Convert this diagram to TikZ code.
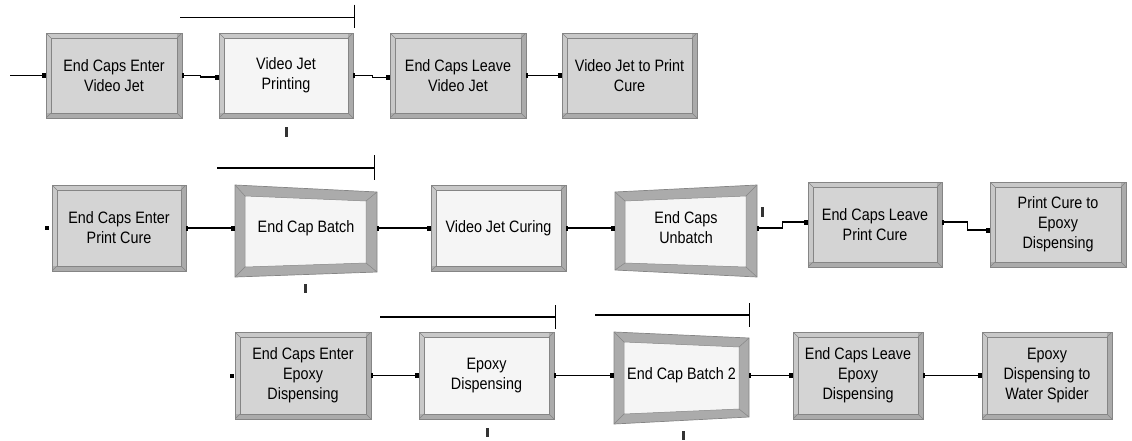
\documentclass[tikz,border=0pt]{standalone}
\usepackage{fontspec}
\usetikzlibrary{arrows.meta}
\newfontfamily\boxfontfam[FakeStretch=0.87]{Liberation Sans}
\newcommand\boxfont{\boxfontfam\fontsize{16.5}{20}\selectfont}
\definecolor{bmid}{HTML}{ABABAB}
\definecolor{bdark}{HTML}{858585}
\definecolor{blight}{HTML}{C8C8C8}
\definecolor{gfill}{HTML}{D4D4D4}
\definecolor{wfill}{HTML}{F5F5F5}
\tikzset{
  innerfill/.store in=\innercol, innerfill=gfill,
  proc/.style={draw=bdark, line width=0.7pt, fill=bmid, inner sep=0pt, align=center, font=\boxfont,
    path picture={
      \fill[blight] ([shift={(1pt,-1pt)}]path picture bounding box.north west) rectangle ([shift={(-5pt,5pt)}]path picture bounding box.south east);
      \fill[\innercol, draw=bdark, line width=0.5pt] ([shift={(5pt,-5pt)}]path picture bounding box.north west) rectangle ([shift={(-5pt,5pt)}]path picture bounding box.south east);
      \draw[bdark, line width=0.5pt] (path picture bounding box.north west) -- ++(5pt,-5pt)
        (path picture bounding box.north east) -- ++(-5pt,-5pt)
        (path picture bounding box.south west) -- ++(5pt,5pt)
        (path picture bounding box.south east) -- ++(-5pt,5pt);
    }},
  gbox/.style={proc, innerfill=gfill},
  wbox/.style={proc, innerfill=wfill},
  batchtxt/.style={inner sep=0pt, align=center, font=\boxfont},
  conn/.style={line width=1.1pt, {Rectangle[length=2pt,width=5pt]}-{Rectangle[length=4pt,width=5pt]}},
  freeconn/.style={line width=1.1pt, -{Rectangle[length=4pt,width=5pt]}},
  queue/.style={line width=1.1pt},
  tickmark/.style={fill=black!80},
  batchouter/.style={fill=bmid, draw=bdark, line width=0.7pt},
  batchinner/.style={fill=wfill, draw=bdark, line width=0.5pt},
  bev/.style={draw=bdark, line width=0.5pt}
}
\begin{document}
\begin{tikzpicture}[x=1pt,y=-1pt]
\useasboundingbox (0,0) rectangle (1132,440);

% ---------- Row 1 ----------
\node[gbox, minimum width=136pt, minimum height=85pt] (A) at (114,75.5) {End Caps Enter\\Video Jet};
\node[wbox, minimum width=134pt, minimum height=85pt] (B) at (286,75.5) {Video Jet\\Printing};
\node[gbox, minimum width=136pt, minimum height=85pt] (C) at (458,75.5) {End Caps Leave\\Video Jet};
\node[gbox, minimum width=135pt, minimum height=85pt] (D) at (629.5,75.5) {Video Jet to Print\\Cure};

% ---------- Row 2 ----------
\node[gbox, minimum width=134pt, minimum height=86pt] (E) at (119,228) {End Caps Enter\\Print Cure};

% batch shape F
\filldraw[batchouter] (235,185) -- (377,192) -- (377,272) -- (235,277) -- cycle;
\filldraw[batchinner] (245,196) -- (366,201) -- (366,263) -- (245,267) -- cycle;
\draw[bev] (235,185) -- (245,196) (377,192) -- (366,201) (377,272) -- (366,263) (235,277) -- (245,267);
\node[batchtxt, minimum width=142pt, minimum height=80pt] (F) at (306,228) {End Cap Batch};

\node[wbox, minimum width=135pt, minimum height=86pt] (G) at (498.5,228) {Video Jet Curing};

% batch shape H (unbatch)
\filldraw[batchouter] (615,192) -- (757,185) -- (757,277) -- (615,270) -- cycle;
\filldraw[batchinner] (625,201) -- (746,196) -- (746,267) -- (625,263) -- cycle;
\draw[bev] (615,192) -- (625,201) (757,185) -- (746,196) (757,277) -- (746,267) (615,270) -- (625,263);
\node[batchtxt, minimum width=142pt, minimum height=80pt] (H) at (686,228) {End Caps\\Unbatch};

\node[gbox, minimum width=134pt, minimum height=85pt] (I) at (875,224.5) {End Caps Leave\\Print Cure};
\node[gbox, minimum width=136pt, minimum height=85pt] (J) at (1058,224.5) {Print Cure to\\Epoxy\\Dispensing};

% ---------- Row 3 ----------
\node[gbox, minimum width=136pt, minimum height=87pt] (K) at (303,375.5) {End Caps Enter\\Epoxy\\Dispensing};
\node[wbox, minimum width=135pt, minimum height=87pt] (L) at (486.5,375.5) {Epoxy\\Dispensing};

% batch shape M
\filldraw[batchouter] (614,332) -- (749,338) -- (749,417) -- (614,424) -- cycle;
\filldraw[batchinner] (624,342) -- (739,347) -- (739,409) -- (624,414) -- cycle;
\draw[bev] (614,332) -- (624,342) (749,338) -- (739,347) (749,417) -- (739,409) (614,424) -- (624,414);
\node[batchtxt, minimum width=135pt, minimum height=80pt] (M) at (681.5,375.5) {End Cap Batch 2};

\node[gbox, minimum width=130pt, minimum height=87pt] (N) at (858,375.5) {End Caps Leave\\Epoxy\\Dispensing};
\node[gbox, minimum width=130pt, minimum height=87pt] (O) at (1047,375.5) {Epoxy\\Dispensing to\\Water Spider};

% ---------- connectors ----------
\coordinate (in) at (10,75.5);
\draw[freeconn] (in) -- (A.west);
\draw[conn] (A.east) -- ++(18,0) |- ([yshift=-1.5pt]B.west);
\draw[conn] (B.east) -- ++(19,0) |- ([yshift=-2pt]C.west);
\draw[conn] (C.east) -- (D.west);

\draw[conn] (E.east) -- (F.west);
\draw[conn] (F.east) -- (G.west);
\draw[conn] (G.east) -- (H.west);
\draw[conn] (H.east) -- ++(25,0) |- ([yshift=2.5pt]I.west);
\draw[conn] ([yshift=2.5pt]I.east) -- ++(25,0) |- ([yshift=-5.5pt]J.west);

\draw[conn] (K.east) -- (L.west);
\draw[conn] (L.east) -- (M.west);
\draw[conn] (M.east) -- (N.west);
\draw[conn] (N.east) -- (O.west);

% unconnected entry points
\fill ([xshift=-5pt]E.west) +(-2,-2) rectangle +(2,2);
\fill ([xshift=-3pt]K.west) +(-2,-2) rectangle +(2,2);

% ---------- queues ----------
\draw[queue] ([yshift=15pt]B.north east) ++(1,0) -- ++(-174,0);
\draw[queue] ([yshift=15pt]B.north east) ++(1,-13) -- ++(0,23);
\draw[queue] (F.east |- 0,168) ++(-3,0) -- ++(-157,0);
\draw[queue] (F.east |- 0,155) ++(-3,0) -- ++(0,25);
\draw[queue] (L.east |- 0,317) ++(1,0) -- ++(-175,0);
\draw[queue] (L.east |- 0,305) ++(1,0) -- ++(0,24);
\draw[queue] (M.east |- 0,315) -- ++(-154,0);
\draw[queue] (M.east |- 0,303) -- ++(0,24);

% ---------- small marks ----------
\fill[tickmark] (285,127) rectangle (288,137);
\fill[tickmark] (304,284) rectangle (307,293);
\fill[tickmark] (761,207) rectangle (764,217);
\fill[tickmark] (486,428) rectangle (489,437);
\fill[tickmark] (682,431) rectangle (685,440);
\end{tikzpicture}
\end{document}
